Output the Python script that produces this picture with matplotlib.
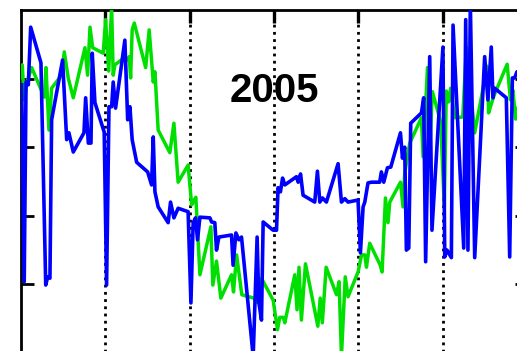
import matplotlib
matplotlib.use("Agg")
import matplotlib.pyplot as plt

# daily series for 2005 (day of year, value)
blue_day = [0.5, 2.3, 3.6, 5.2, 6.9, 14.2, 17.6, 19.0, 20.6, 21.8, 29.6, 32.5, 34.1, 37.2,
            44.8, 46.0, 47.9, 49.8, 50.7, 52.6, 59.2, 60.9, 62.6, 64.5, 65.6, 67.3, 73.9,
            75.9, 77.5, 79.1, 82.3, 90.1, 92.9, 94.1, 95.3, 97.6, 104.7, 106.4, 108.8,
            111.8, 118.9, 120.9, 122.5, 124.2, 125.6, 127.3, 134.4, 135.6, 137.9, 139.1,
            140.8, 149.8, 150.9, 152.9, 155.0, 156.9, 165.2, 168.0, 169.2, 171.1, 172.3,
            179.4, 181.8, 182.9, 184.6, 186.1, 187.7, 196.0, 197.2, 198.9, 200.7, 209.0,
            210.9, 212.6, 214.5, 217.3, 225.6, 228.0, 230.4, 232.7, 239.8, 241.5, 243.4,
            244.6, 246.9, 249.3, 255.2, 256.4, 258.1, 260.7, 263.1, 270.0, 271.4, 273.0,
            274.2, 275.9, 277.3, 284.9, 286.5, 287.9, 290.8, 292.4, 300.2, 301.5, 303.1,
            306.2, 307.4, 315.0, 316.4, 318.0, 319.7, 322.8, 329.9, 332.2, 334.6, 335.8,
            337.0, 345.3, 347.7, 349.6, 351.2, 352.9, 358.0]
blue_val = [39.1, 10.4, 39.5, 39.1, 47.5, 42.3, 9.9, 11.1, 10.9, 34.0, 42.7, 31.1, 32.1, 29.3,
            32.1, 37.2, 30.6, 30.6, 43.7, 36.5, 32.2, 9.9, 35.9, 35.9, 39.5, 35.7, 45.6,
            34.0, 35.9, 31.1, 27.8, 26.4, 24.5, 31.5, 23.5, 21.3, 19.0, 22.0, 19.7,
            21.1, 20.6, 7.3, 19.0, 19.7, 16.5, 19.8, 19.7, 19.1, 19.0, 15.0,
            16.9, 17.2, 12.8, 17.5, 16.5, 16.9, -0.5, 16.9, 7.4, 4.8, 19.1,
            17.9, 17.9, 24.1, 23.5, 25.5, 24.5, 25.7, 24.9, 26.1, 23.0, 22.0,
            26.5, 22.0, 22.6, 22.0, 27.6, 22.0, 22.5, 22.0, 22.3, 14.6, 21.3,
            22.0, 24.8, 24.9, 24.9, 26.4, 24.9, 27.0, 27.1, 32.1, 28.4, 30.0,
            15.0, 15.3, 33.5, 35.0, 37.2, 13.3, 43.2, 17.9, 44.6, 14.0, 15.0,
            13.9, 47.8, 15.3, 48.6, 15.0, 51.0, 13.9, 43.2, 36.9, 44.6, 37.2,
            38.6, 37.2, 14.0, 40.1, 40.1, 41.0, 40.0]

green_day = [0.0, 0.9, 2.3, 4.1, 7.6, 16.6, 17.8, 19.9, 21.8, 28.9, 30.8, 33.6, 37.2, 45.5,
             47.4, 49.1, 51.0, 58.5, 60.2, 62.4, 64.5, 65.6, 66.8, 73.2, 75.2, 77.0, 78.0,
             79.1, 80.6, 88.7, 91.2, 94.1, 95.3, 97.6, 105.9, 108.8, 111.8, 118.9, 121.4,
             123.2, 124.4, 127.3, 135.1, 136.5, 139.1, 142.2, 149.8, 151.2, 153.4, 157.1,
             165.7, 167.6, 171.1, 179.4, 182.5, 184.1, 186.5, 187.7, 194.8, 196.4, 197.8,
             199.5, 202.4, 211.2, 212.9, 214.4, 217.1, 224.5, 226.3, 228.0, 230.7, 232.7,
             239.8, 242.3, 244.6, 245.8, 248.1, 255.6, 256.9, 259.3, 261.1, 262.4, 270.0,
             271.8, 273.0, 276.6, 284.9, 286.1, 289.2, 290.8, 292.7, 298.6, 301.2, 302.6,
             304.3, 305.7, 308.6, 314.3, 316.9, 322.8, 331.7, 332.7, 334.9, 336.5, 345.9,
             348.2, 350.0, 351.9, 356.0]
green_val = [40.2, 42.0, 36.9, 39.4, 41.6, 37.3, 41.6, 32.5, 38.6, 40.5, 43.9, 40.1, 37.2, 44.5,
             40.5, 47.5, 44.5, 43.7, 48.6, 41.1, 50.5, 40.5, 42.0, 43.0, 42.7, 43.2, 40.1,
             47.1, 48.1, 41.6, 47.1, 39.5, 41.0, 32.5, 29.2, 33.5, 24.9, 27.4, 21.6,
             22.3, 22.7, 11.4, 18.4, 9.9, 13.4, 8.0, 11.4, 8.9, 14.3, 8.5,
             8.0, 7.4, 10.9, 7.7, 3.4, 5.2, 5.2, 4.4, 11.4, 6.3, 12.5,
             4.8, 13.0, 3.9, 8.0, 4.4, 12.5, 8.5, 10.4, -0.5, 11.1, 8.2,
             11.8, 14.3, 14.3, 12.5, 16.0, 12.8, 11.8, 22.6, 19.0, 22.0, 24.9,
             21.3, 26.2, 30.6, 34.3, 28.6, 41.6, 29.6, 38.1, 33.7, 21.3, 38.2,
             36.6, 38.6, 34.3, 34.4, 44.6, 32.1, 41.8, 35.0, 36.5, 37.5, 42.1,
             36.9, 38.3, 34.1, 38.0]

month_marks = [60, 120, 180, 240, 300]
level_marks = [10, 20, 30, 40]

fig = plt.figure(figsize=(5.17, 3.51), dpi=100)
ax = fig.add_axes([0.0406, -0.0057, 0.9787, 0.9772])

ax.plot(green_day, green_val, color='#00E000', lw=2.5, zorder=3)
ax.plot(blue_day, blue_val, color='#0000FF', lw=2.6, zorder=4)

ax.set_xlim(0, 360)
ax.set_ylim(0, 50)
ax.set_xticks(month_marks)
ax.set_yticks(level_marks)
ax.xaxis.set_ticks_position('top')
ax.tick_params(axis='x', direction='in', length=9, width=2.4, labeltop=False, labelbottom=False)
ax.tick_params(axis='y', direction='in', length=9, width=2.0, left=True, right=True,
               labelleft=False, labelright=False)
ax.grid(axis='x', color='black', linestyle=(0, (1, 1.6)), lw=2.0)
ax.set_axisbelow(True)
for s in ax.spines.values():
    s.set_linewidth(2.0)

ax.text(0.5, 0.765, '2005', transform=ax.transAxes, ha='center', va='center',
        fontsize=29, fontweight='bold', family='Liberation Sans', zorder=5)

fig.savefig('out.png', dpi=100)
